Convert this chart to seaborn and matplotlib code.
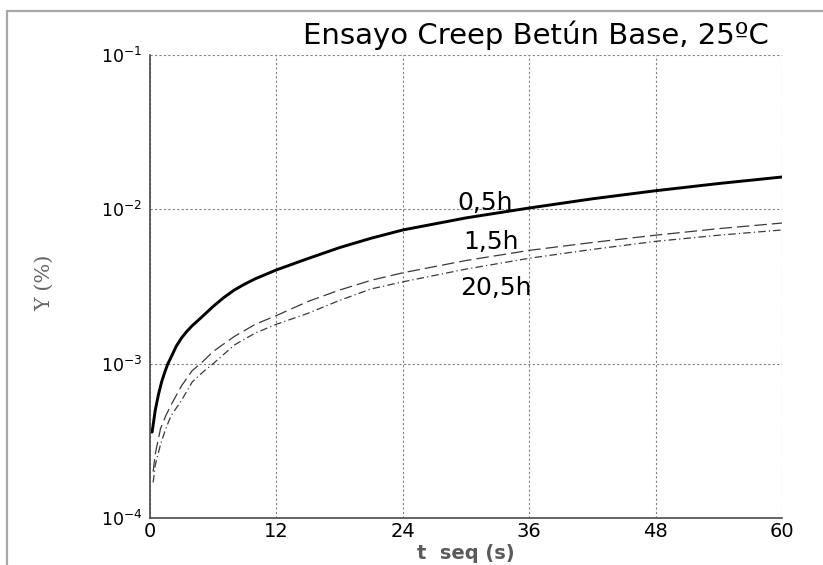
import matplotlib
matplotlib.use("Agg")
import matplotlib.pyplot as plt
import matplotlib.ticker as mticker
from matplotlib.lines import Line2D
import numpy as np
import pandas as pd
import seaborn as sns

# Creep test data: time (s) and shear strain (%) for three ageing times
t_05 = [0.2, 0.5, 0.8, 1.1, 1.4, 1.7, 2, 2.5, 3, 3.5, 4, 5, 6, 7, 8, 9, 10, 12, 15, 18,
        21, 24, 30, 36, 42, 48, 54, 60]
g_05 = [3.6e-4, 5.0e-4, 6.3e-4, 7.6e-4, 8.8e-4, 1.0e-3, 1.1e-3, 1.3e-3, 1.47e-3, 1.62e-3,
        1.76e-3, 2.03e-3, 2.35e-3, 2.68e-3, 3.0e-3, 3.28e-3, 3.55e-3, 4.05e-3, 4.8e-3,
        5.65e-3, 6.5e-3, 7.35e-3, 8.8e-3, 1.02e-2, 1.17e-2, 1.32e-2, 1.47e-2, 1.62e-2]

t_15 = [0.3, 0.5, 1, 1.5, 2, 3, 4, 5, 6, 8, 10, 12, 15, 18, 21, 24, 30, 36, 42, 48, 54, 60]
g_15 = [2.0e-4, 2.6e-4, 3.8e-4, 4.6e-4, 5.4e-4, 7.2e-4, 9.0e-4, 1.03e-3, 1.2e-3,
        1.5e-3, 1.8e-3, 2.05e-3, 2.53e-3, 3.0e-3, 3.47e-3, 3.88e-3, 4.66e-3, 5.42e-3,
        6.1e-3, 6.8e-3, 7.5e-3, 8.15e-3]

t_205 = [0.3, 0.5, 1, 1.5, 2, 3, 4, 5, 6, 8, 10, 12, 15, 18, 21, 24, 30, 36, 42, 48, 54, 60]
g_205 = [1.7e-4, 2.2e-4, 3.0e-4, 3.8e-4, 4.6e-4, 5.8e-4, 7.6e-4, 8.8e-4, 1.0e-3,
         1.32e-3, 1.58e-3, 1.8e-3, 2.12e-3, 2.57e-3, 3.05e-3, 3.39e-3, 4.1e-3, 4.82e-3,
         5.5e-3, 6.2e-3, 6.8e-3, 7.35e-3]

series_names = ["0,5h", "1,5h", "20,5h"]
x_ticks = [0, 12, 24, 36, 48, 60]
y_ticks = [1e-4, 1e-3, 1e-2, 1e-1]

df = pd.concat([
    pd.DataFrame({"t": t_05, "gamma": g_05, "serie": series_names[0]}),
    pd.DataFrame({"t": t_15, "gamma": g_15, "serie": series_names[1]}),
    pd.DataFrame({"t": t_205, "gamma": g_205, "serie": series_names[2]}),
])

sns.set_theme(style="white")
plt.rcParams["font.family"] = ["DejaVu Sans"]
plt.rcParams["mathtext.default"] = "regular"

fig = plt.figure(figsize=(8.23, 5.65), dpi=100)
fig.patch.set_facecolor("white")
ax = fig.add_axes([150 / 823, 1 - 518 / 565, 632 / 823, 463 / 565])

styles = {
    "0,5h": dict(color="black", linewidth=2.1, linestyle="-"),
    "1,5h": dict(color="#3a3a3a", linewidth=0.9, linestyle=(0, (10, 4))),
    "20,5h": dict(color="#3a3a3a", linewidth=0.9, linestyle=(0, (6, 2.5, 1, 2.5))),
}
for name in series_names:
    sub = df[df["serie"] == name]
    sns.lineplot(data=sub, x="t", y="gamma", ax=ax, legend=False, **styles[name])

ax.set_yscale("log")
ax.set_xlim(0, 60)
ax.set_ylim(1e-4, 1e-1)
ax.set_xticks(x_ticks)
ax.set_xticklabels([str(v) for v in x_ticks])
ax.xaxis.set_minor_locator(mticker.MultipleLocator(6))
ax.set_yticks(y_ticks)
ax.yaxis.set_minor_locator(mticker.LogLocator(base=10, subs=np.arange(2, 10)))
ax.yaxis.set_minor_formatter(mticker.NullFormatter())

ax.grid(True, which="major", color="#808080", linestyle=(0, (2, 2)), linewidth=0.8)
ax.grid(False, which="minor")

for side in ["top", "right"]:
    ax.spines[side].set_visible(False)
for side in ["left", "bottom"]:
    ax.spines[side].set_color("#4a4a4a")
    ax.spines[side].set_linewidth(1.2)

ax.tick_params(which="major", direction="out", length=2.5, width=1, color="#4a4a4a",
               labelcolor="black")
ax.tick_params(which="minor", direction="in", length=3, width=0.8, color="#4a4a4a")
ax.tick_params(axis="x", which="major", labelsize=14, pad=0.5)
ax.tick_params(axis="y", which="major", labelsize=12.5, pad=3)

ax.set_xlabel("")
ax.set_ylabel("")

# Curve labels
ax.text(29.2, 1.1e-2, "0,5h", fontsize=18, color="black", ha="left", va="center")
ax.text(29.7, 6.1e-3, "1,5h", fontsize=18, color="black", ha="left", va="center")
ax.text(29.4, 3.1e-3, "20,5h", fontsize=18, color="black", ha="left", va="center")

# Title
fig.text(769 / 823, 1 - 35 / 565, "Ensayo Creep Betún Base, 25ºC", fontsize=21,
         color="black", ha="right", va="center")

# Axis titles
fig.text(466 / 823, 1 - 563 / 565, "t  seq (s)", fontsize=14, fontweight="bold",
         color="#5a5a5a", ha="center", va="bottom")
fig.text(45 / 823, 1 - 283 / 565, "Υ (%)", fontsize=15, family=["DejaVu Serif"],
         color="#666666", ha="center", va="center", rotation=90)

# Outer frame
fig.add_artist(Line2D([7 / 823, 7 / 823], [0, 1 - 11 / 565], transform=fig.transFigure,
                      color="#a8a8a8", linewidth=1.6))
fig.add_artist(Line2D([7 / 823, 1], [1 - 11 / 565, 1 - 11 / 565], transform=fig.transFigure,
                      color="#a8a8a8", linewidth=1.6))

fig.savefig("out.png", dpi=100, facecolor="white")
